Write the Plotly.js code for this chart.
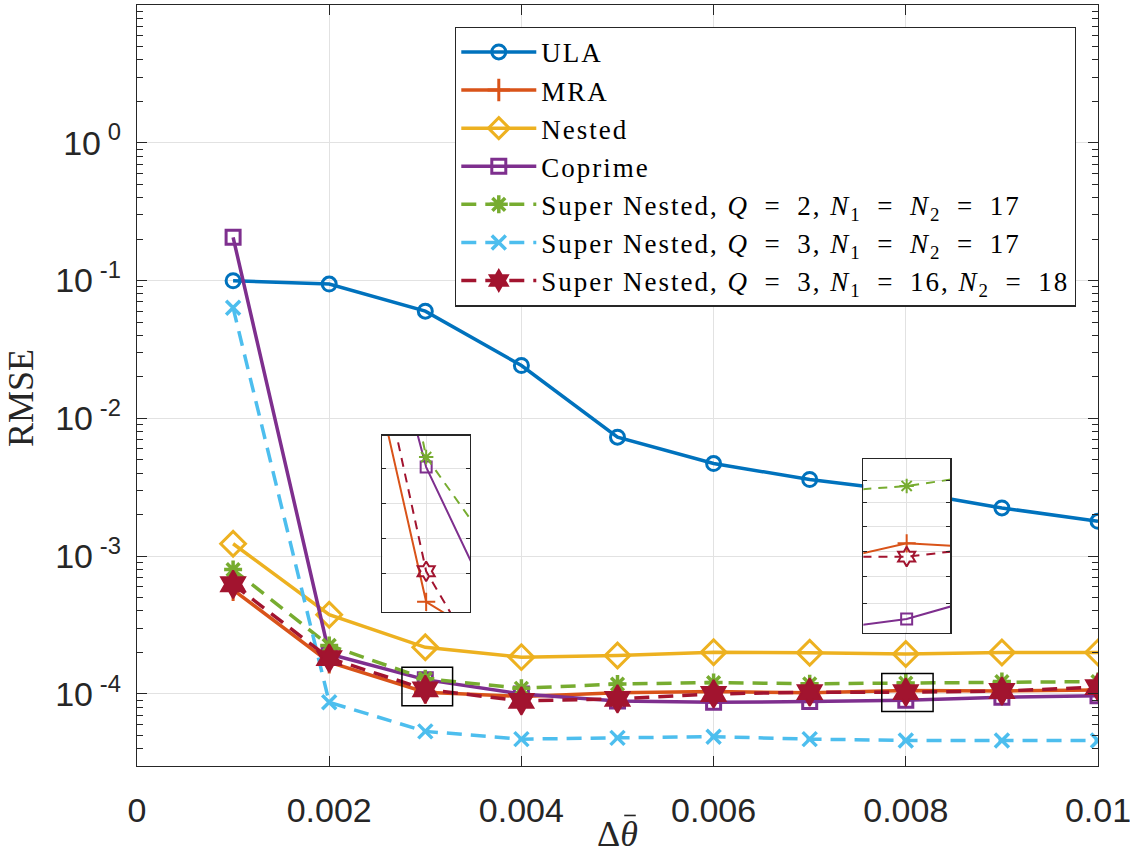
<!DOCTYPE html>
<html>
<head>
<meta charset="utf-8">
<script src="https://cdn.plot.ly/plotly-3.0.1.min.js"></script>
<style>
html,body{margin:0;padding:0;background:#fff;}
#chart{width:1130px;height:854px;}
.legendtext{letter-spacing:2px;}
</style>
</head>
<body>
<div id="chart"></div>
<script>
// ---- data ----
var deltaTheta = [0.001, 0.002, 0.003, 0.004, 0.005, 0.006, 0.007, 0.008, 0.009, 0.010];
var rmseULA     = [0.0997, 0.0944, 0.060, 0.0242, 0.0073, 0.0047, 0.0036, 0.00296, 0.00224, 0.00179];
var rmseMRA     = [5.7e-4, 1.70e-4, 1.03e-4, 9.6e-5, 1.02e-4, 1.04e-4, 1.02e-4, 1.06e-4, 1.05e-4, 1.07e-4];
var rmseNested  = [1.23e-3, 3.76e-4, 2.18e-4, 1.85e-4, 1.90e-4, 2.01e-4, 1.99e-4, 1.95e-4, 2.00e-4, 2.00e-4];
var rmseCoprime = [0.206, 1.95e-4, 1.27e-4, 1.00e-4, 8.9e-5, 8.7e-5, 8.8e-5, 9.0e-5, 9.45e-5, 9.7e-5];
var rmseSN2     = [8.0e-4, 2.25e-4, 1.29e-4, 1.10e-4, 1.18e-4, 1.21e-4, 1.185e-4, 1.20e-4, 1.23e-4, 1.23e-4];
var rmseSN3a    = [0.0634, 8.7e-5, 5.35e-5, 4.7e-5, 4.8e-5, 4.9e-5, 4.7e-5, 4.6e-5, 4.6e-5, 4.6e-5];
var rmseSN3b    = [6.25e-4, 1.82e-4, 1.08e-4, 8.9e-5, 9.2e-5, 1.00e-4, 1.03e-4, 1.03e-4, 1.05e-4, 1.12e-4];

var seriesNames = [
  'ULA', 'MRA', 'Nested', 'Coprime',
  'Super Nested, <i>Q</i>\u2002=\u20022, <i>N</i><sub>1</sub>\u2002=\u2002<i>N</i><sub>2</sub>\u2002=\u200217',
  'Super Nested, <i>Q</i>\u2002=\u20023, <i>N</i><sub>1</sub>\u2002=\u2002<i>N</i><sub>2</sub>\u2002=\u200217',
  'Super Nested, <i>Q</i>\u2002=\u20023, <i>N</i><sub>1</sub>\u2002=\u200216, <i>N</i><sub>2</sub>\u2002=\u200218'
];
var yTickVals = [1e-4, 1e-3, 1e-2, 1e-1, 1];
var yTickText = ['10\u2009<sup>-4</sup>', '10\u2009<sup>-3</sup>', '10\u2009<sup>-2</sup>', '10\u2009<sup>-1</sup>', '10\u2009<sup>0</sup>'];
var xTickVals = [0, 0.002, 0.004, 0.006, 0.008, 0.01];
var xTickText = ['0', '0.002', '0.004', '0.006', '0.008', '0.01'];

// ---- styles ----
var colors  = ['#0072BD', '#D95319', '#EDB120', '#7E2F8E', '#77AC30', '#4DBEEE', '#A2142F'];
var symbols = ['circle-open', 'cross-thin-open', 'diamond-open', 'square-open', 'asterisk-open', 'x-thin-open', 'hexagram'];
var symbolsInset = ['circle-open', 'cross-thin-open', 'diamond-open', 'square-open', 'asterisk-open', 'x-thin-open', 'hexagram-open'];
var sizes   = [14, 16, 19, 14, 15, 14, 21];
var markerLineW = [3, 3, 3, 3, 3.5, 3.5, 2];
var sizesInset = [10, 13, 12, 11, 12, 11, 15];
var dashes  = ['solid', 'solid', 'solid', 'solid', '15px,9px', '15px,9px', '15px,9px'];
var dashesInset = ['solid', 'solid', 'solid', 'solid', '9px,7px', '9px,7px', '9px,7px'];
var allSeries = [rmseULA, rmseMRA, rmseNested, rmseCoprime, rmseSN2, rmseSN3a, rmseSN3b];

var traces = [];
allSeries.forEach(function (ys, i) {
  traces.push({
    x: deltaTheta, y: ys, name: seriesNames[i], type: 'scatter', mode: 'lines+markers',
    line: {color: colors[i], width: 3.5, dash: dashes[i]},
    marker: {symbol: symbols[i], size: sizes[i], color: colors[i], line: {color: colors[i], width: markerLineW[i]}},
    xaxis: 'x', yaxis: 'y'
  });
});
// insets (same data, zoomed axes)
['2', '3'].forEach(function (ax) {
  allSeries.forEach(function (ys, i) {
    traces.push({
      x: deltaTheta, y: ys, type: 'scatter', mode: 'lines+markers', showlegend: false,
      line: {color: colors[i], width: 2, dash: dashesInset[i]},
      marker: {symbol: symbolsInset[i], size: sizesInset[i], color: colors[i], line: {color: colors[i], width: 2}},
      xaxis: 'x' + ax, yaxis: 'y' + ax
    });
  });
});

// minor ticks for the main log axis
var minorVals = [];
for (var e = -5; e <= 0; e++) { for (var m = 2; m <= 9; m++) { minorVals.push(m * Math.pow(10, e)); } }

var axisCol = '#262626';
var gridCol = '#e2e2e2';
var tickFont = {family: 'Liberation Sans, Arial, sans-serif', size: 34, color: axisCol};
var serif = 'Liberation Serif, Times New Roman, serif';

function insetX(domain, range, center, anchor) {
  return {domain: domain, range: range, anchor: anchor,
    tickvals: [center], showticklabels: false, ticks: '', showgrid: true, gridcolor: gridCol, gridwidth: 1,
    showline: true, mirror: true, linecolor: axisCol, linewidth: 1.5, zeroline: false};
}
function insetY(domain, range, grid, anchor) {
  return {domain: domain, type: 'log', range: range, anchor: anchor,
    tickvals: grid, showticklabels: false, ticks: 'inside', ticklen: 4, tickcolor: axisCol,
    showgrid: true, gridcolor: gridCol, gridwidth: 1,
    showline: true, mirror: 'ticks', linecolor: axisCol, linewidth: 1.5, zeroline: false};
}

var layout = {
  width: 1130, height: 854,
  margin: {l: 137, r: 32, t: 5, b: 88},
  paper_bgcolor: '#ffffff', plot_bgcolor: '#ffffff',
  showlegend: true,
  xaxis: {
    domain: [0, 1], range: [0, 0.01], tickvals: xTickVals, ticktext: xTickText,
    ticks: 'inside', ticklen: 10, tickwidth: 1, tickcolor: axisCol, ticklabelstandoff: 14,
    ticklabeloverflow: 'allow',
    showline: true, mirror: 'ticks', linecolor: axisCol, linewidth: 1.2,
    showgrid: true, gridcolor: gridCol, gridwidth: 1, zeroline: false,
    tickfont: tickFont,
    title: {text: '\u0394<i>\u03B8</i>', font: {family: serif, size: 36, color: axisCol}, standoff: 0}
  },
  yaxis: {
    type: 'log', range: [Math.log10(3e-5), 1.0], tickvals: yTickVals, ticktext: yTickText,
    ticks: 'inside', ticklen: 10, tickwidth: 1, tickcolor: axisCol, ticklabelstandoff: 8,
    minor: {tickvals: minorVals, ticks: 'inside', ticklen: 6, tickcolor: axisCol, showgrid: false},
    showline: true, mirror: 'ticks', linecolor: axisCol, linewidth: 1.2,
    showgrid: true, gridcolor: gridCol, gridwidth: 1, zeroline: false,
    tickfont: tickFont
  },
  xaxis2: insetX([0.2553, 0.3465], [0.0024, 0.0036], 0.003, 'y2'),
  yaxis2: insetY([0.2025, 0.434], [-3.994, -3.875], [1.268e-4, 1.2e-4, 1.137e-4, 1.076e-4], 'x2'),
  xaxis3: insetX([0.7558, 0.846], [0.00745, 0.00855], 0.008, 'y3'),
  yaxis3: insetY([0.1754, 0.403], [-4.0584, -3.8958], [1.215e-4, 1.157e-4, 1.099e-4, 1.041e-4, 0.986e-4, 0.931e-4], 'x3'),
  legend: {
    x: 0.331, y: 0.9715, xanchor: 'left', yanchor: 'top',
    bgcolor: '#ffffff', bordercolor: axisCol, borderwidth: 1.2,
    font: {family: serif, size: 27, color: '#000000'},
    itemwidth: 75, tracegroupgap: 0
  },
  annotations: [
    {text: 'RMSE', textangle: -90, xref: 'paper', yref: 'paper', x: -0.12, y: 0.483,
     xanchor: 'center', yanchor: 'middle', showarrow: false,
     font: {family: serif, size: 36, color: axisCol}}
  ],
  shapes: [
    {type: 'rect', xref: 'x', yref: 'y', x0: 0.002757, x1: 0.003284, y0: 8.22e-5, y1: 1.56e-4,
     line: {color: '#000000', width: 1.5}, fillcolor: 'rgba(0,0,0,0)', layer: 'above'},
    {type: 'rect', xref: 'x', yref: 'y', x0: 0.00775, x1: 0.008284, y0: 7.47e-5, y1: 1.41e-4,
     line: {color: '#000000', width: 1.5}, fillcolor: 'rgba(0,0,0,0)', layer: 'above'},
    // bar over theta in the x-axis title
    {type: 'line', xref: 'paper', yref: 'paper', x0: 0.507, x1: 0.519, y0: -0.065, y1: -0.065,
     line: {color: axisCol, width: 1.6}}
  ]
};

Plotly.newPlot('chart', traces, layout, {staticPlot: true, displayModeBar: false});
</script>
</body>
</html>
